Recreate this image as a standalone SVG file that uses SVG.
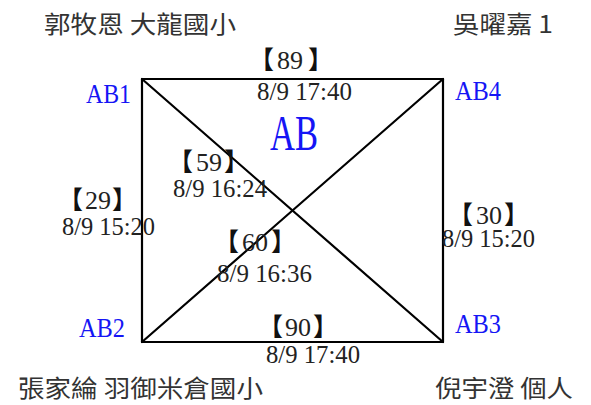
<svg xmlns="http://www.w3.org/2000/svg" width="591" height="405" viewBox="0 0 591 405">
<style>
.bg{fill:#fff}
.edge{stroke:#000;stroke-width:2.2;fill:none;stroke-linecap:round}
.lbl{font-family:"Liberation Serif",serif;font-size:25px;fill:#222}
.num{font-family:"Liberation Serif",serif;font-size:26px;fill:#222;text-anchor:middle}
.bl{font-family:"Noto Sans CJK TC","Noto Sans CJK SC",sans-serif;font-size:25px;font-weight:bold;fill:#111;text-anchor:end}
.br{font-family:"Noto Sans CJK TC","Noto Sans CJK SC",sans-serif;font-size:25px;font-weight:bold;fill:#111;text-anchor:start}
.node{font-family:"Liberation Serif",serif;font-size:27px;fill:#1515f5}
.title{font-family:"Liberation Serif",serif;font-size:50px;fill:#1515f5}
.name{font-family:"Noto Sans CJK TC","Noto Sans",sans-serif;font-size:24px;fill:#333}
</style>
<rect class="bg" x="0" y="0" width="591" height="405"/>
<g id="connectors">
  <line class="edge" x1="142" y1="79" x2="443" y2="79"/>
  <line class="edge" x1="142" y1="342" x2="443" y2="342"/>
  <line class="edge" x1="142" y1="79" x2="142" y2="342"/>
  <line class="edge" x1="443" y1="79" x2="443" y2="342"/>
  <line class="edge" x1="142" y1="79" x2="443" y2="342"/>
  <line class="edge" x1="142" y1="342" x2="443" y2="79"/>
  <g id="edge-AB1-AB4">
    <text class="bl" x="274" y="69">【</text><text class="num" x="290" y="69">89</text><text class="br" x="308" y="69">】</text>
    <text class="lbl" x="257" y="100" textLength="95" lengthAdjust="spacingAndGlyphs">8/9 17:40</text>
  </g>
  <g id="edge-AB1-AB3">
    <text class="bl" x="193" y="171">【</text><text class="num" x="209" y="171">59</text><text class="br" x="224" y="171">】</text>
    <text class="lbl" x="173" y="197" textLength="94" lengthAdjust="spacingAndGlyphs">8/9 16:24</text>
  </g>
  <g id="edge-AB2-AB4">
    <text class="bl" x="239" y="251">【</text><text class="num" x="255" y="251">60</text><text class="br" x="271" y="251">】</text>
    <text class="lbl" x="217" y="282" textLength="95" lengthAdjust="spacingAndGlyphs">8/9 16:36</text>
  </g>
  <g id="edge-AB2-AB3">
    <text class="bl" x="283" y="336">【</text><text class="num" x="298" y="336">90</text><text class="br" x="313" y="336">】</text>
    <text class="lbl" x="266" y="363" textLength="94" lengthAdjust="spacingAndGlyphs">8/9 17:40</text>
  </g>
  <g id="edge-AB1-AB2">
    <text class="bl" x="83" y="209">【</text><text class="num" x="98" y="209">29</text><text class="br" x="112" y="209">】</text>
    <text class="lbl" x="62" y="235" textLength="93" lengthAdjust="spacingAndGlyphs">8/9 15:20</text>
  </g>
  <g id="edge-AB4-AB3">
    <text class="bl" x="473" y="224">【</text><text class="num" x="489" y="224">30</text><text class="br" x="504" y="224">】</text>
    <text class="lbl" x="442" y="247" textLength="93" lengthAdjust="spacingAndGlyphs">8/9 15:20</text>
  </g>
</g>
<g id="title">
  <text class="title" x="270" y="150" textLength="48" lengthAdjust="spacingAndGlyphs">AB</text>
</g>
<g id="AB1">
  <text class="node" x="86" y="103" textLength="45" lengthAdjust="spacingAndGlyphs">AB1</text>
  <text class="name" x="44" y="33" textLength="192" lengthAdjust="spacingAndGlyphs">郭牧恩 大龍國小</text>
</g>
<g id="AB4">
  <text class="node" x="455" y="100" textLength="46" lengthAdjust="spacingAndGlyphs">AB4</text>
  <text class="name" x="453" y="33" textLength="100" lengthAdjust="spacingAndGlyphs">吳曜嘉 1</text>
</g>
<g id="AB2">
  <text class="node" x="79" y="337" textLength="46" lengthAdjust="spacingAndGlyphs">AB2</text>
  <text class="name" x="18" y="397" textLength="245" lengthAdjust="spacingAndGlyphs">張家綸 羽御米倉國小</text>
</g>
<g id="AB3">
  <text class="node" x="455" y="333" textLength="46" lengthAdjust="spacingAndGlyphs">AB3</text>
  <text class="name" x="435" y="397" textLength="138" lengthAdjust="spacingAndGlyphs">倪宇澄 個人</text>
</g>
</svg>
